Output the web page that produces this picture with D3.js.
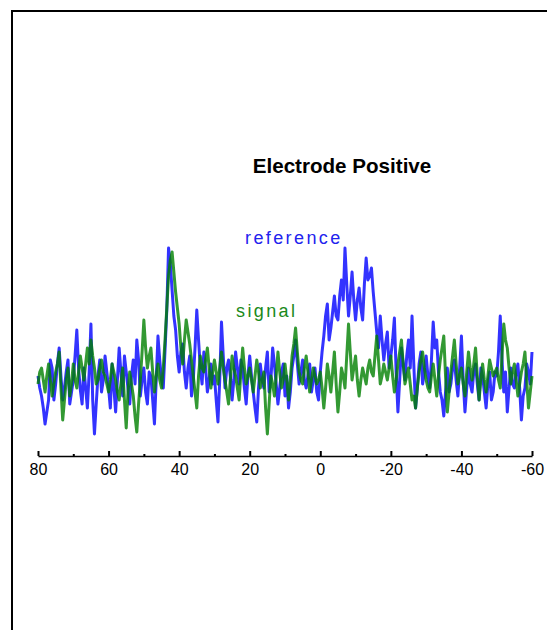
<!DOCTYPE html>
<html>
<head>
<meta charset="utf-8">
<script src="https://cdn.jsdelivr.net/npm/d3@7"></script>
<style>
  html, body { margin: 0; padding: 0; background: #fff; }
  svg { display: block; }
</style>
</head>
<body>
<svg id="chart" width="547" height="630"></svg>
<script>
// whole-step positions 80 .. -60 and half-step positions 79.5 .. -59.5
const xWhole = d3.range(80, -61, -1);
const xHalf = d3.range(79.5, -60, -1);

// reference series (blue) at whole steps
const referenceWhole = [
  3.2, 2.2, 0.8, 2.0, 3.6, 2.8, 4.6, 2.0, 3.4, 1.8,   // 80..71
  3.0, 5.5, 2.5, 3.6, 1.6, 5.8, 0.3, 3.2, 2.4, 4.2,   // 70..61
  2.6, 3.8, 1.4, 4.6, 2.2, 3.4, 1.8, 4.0, 5.0, 2.2,   // 60..51
  3.6, 1.8, 3.2, 0.8, 5.2, 3.0, 4.5, 9.6, 7.5, 5.5,   // 50..41
  3.4, 4.8, 2.6, 4.2, 3.0, 6.5, 3.6, 4.4, 2.4, 3.8,   // 40..31
  3.2, 0.9, 5.9, 2.6, 4.0, 2.0, 4.4, 2.8, 3.6, 1.8,   // 30..21
  4.2, 2.4, 0.9, 3.8, 2.6, 4.4, 3.0, 3.8, 1.8, 3.4,   // 20..11
  2.2, 1.6, 3.6, 5.0, 2.8, 4.0, 2.6, 3.8, 3.0, 2.4,   // 10..1
  3.4, 5.2, 6.8, 5.6, 7.2, 6.0, 8.0, 9.6, 6.2, 8.4,   // 0..-9
  6.0, 7.6, 6.0, 9.1, 8.2, 7.4, 5.4, 6.2, 4.0, 5.4,   // -10..-19
  4.2, 6.1, 1.4, 4.6, 3.0, 5.0, 6.2, 1.6, 3.8, 2.8,   // -20..-29
  4.2, 2.6, 5.9, 5.0, 2.4, 1.2, 3.6, 2.8, 4.0, 2.2,   // -30..-39
  5.2, 1.4, 3.6, 2.4, 3.8, 2.0, 3.2, 1.6, 3.4, 2.4,   // -40..-49
  3.2, 6.2, 2.4, 1.4, 3.6, 2.6, 3.8, 1.0, 2.6, 3.4, 4.4 // -50..-60
];
// reference series (blue) at half steps
const referenceHalf = [
  2.6, 1.6, 1.4, 4.0, 2.0, 3.8, 3.2, 2.6, 4.0, 2.4,   // 79.5..70.5
  4.2, 3.6, 1.8, 2.6, 3.4, 2.0, 1.8, 4.0, 3.0, 3.4,   // 69.5..60.5
  1.6, 2.6, 3.0, 3.4, 4.2, 2.6, 3.2, 2.8, 4.0, 3.0,   // 59.5..50.5
  2.4, 3.4, 2.0, 3.0, 4.0, 2.6, 6.5, 8.8, 6.2, 4.2,   // 49.5..40.5
  4.4, 3.4, 3.6, 2.2, 4.6, 5.0, 2.8, 3.6, 3.0, 2.8,   // 39.5..30.5
  2.0, 3.0, 4.2, 3.6, 3.2, 3.0, 3.6, 4.0, 2.6, 3.2,   // 29.5..20.5
  3.2, 1.6, 2.6, 3.0, 3.6, 2.4, 4.6, 2.8, 2.6, 3.8,   // 19.5..10.5
  3.2, 2.4, 4.2, 3.8, 3.4, 3.0, 3.2, 2.4, 3.6, 2.0,   // 9.5..0.5
  4.4, 6.2, 5.0, 6.4, 6.2, 7.2, 7.0, 7.8, 7.2, 7.0,   // -0.5..-9.5
  7.0, 6.6, 7.8, 8.0, 8.6, 6.4, 4.6, 5.0, 4.8, 3.6,   // -10.5..-19.5
  5.0, 3.4, 3.0, 3.8, 4.2, 3.6, 3.8, 2.6, 4.4, 3.4,   // -20.5..-29.5
  3.2, 4.0, 4.6, 3.4, 2.0, 2.4, 2.4, 3.6, 3.0, 3.6,   // -30.5..-39.5
  3.0, 2.6, 2.8, 3.4, 2.8, 3.6, 2.4, 2.8, 2.0, 3.4,   // -40.5..-49.5
  4.4, 4.0, 3.4, 2.6, 2.8, 3.4, 2.6, 2.2, 3.8, 2.8    // -50.5..-59.5
];

// signal series (green) at whole steps
const signalWhole = [
  2.8, 3.6, 2.4, 3.8, 2.2, 3.4, 4.4, 1.0, 3.0, 2.2,   // 80..71
  3.8, 2.6, 4.2, 3.0, 4.6, 5.0, 3.6, 3.0, 4.0, 3.2,   // 70..61
  2.4, 3.8, 3.0, 2.0, 3.6, 0.6, 3.4, 2.2, 0.4, 3.0,   // 60..51
  6.0, 3.6, 4.6, 2.4, 3.8, 2.6, 5.0, 8.2, 9.4, 7.4,   // 50..41
  5.8, 3.8, 6.0, 4.8, 3.2, 1.6, 4.2, 3.4, 4.6, 2.6,   // 40..31
  4.0, 2.8, 4.4, 3.0, 1.8, 4.2, 3.2, 2.0, 4.6, 2.8,   // 30..21
  3.6, 2.4, 4.0, 2.6, 3.4, 0.3, 3.2, 2.2, 4.4, 2.6,   // 20..11
  3.8, 2.0, 4.2, 5.6, 3.4, 2.8, 4.2, 2.4, 3.6, 2.8,   // 10..1
  3.4, 1.6, 3.8, 2.4, 4.4, 1.4, 3.6, 2.6, 5.8, 3.0,   // 0..-9
  4.2, 2.2, 3.6, 2.8, 4.0, 3.2, 5.2, 2.8, 3.8, 3.0,   // -10..-19
  4.2, 2.4, 3.8, 5.0, 2.8, 3.6, 2.0, 1.6, 3.4, 4.4,   // -20..-29
  3.0, 2.4, 3.8, 2.2, 4.0, 5.2, 1.4, 3.4, 5.0, 2.8,   // -30..-39
  3.6, 2.2, 4.4, 3.0, 4.6, 2.0, 3.8, 2.4, 4.0, 3.2,   // -40..-49
  3.6, 2.6, 5.8, 4.6, 2.8, 3.8, 2.2, 3.4, 4.4, 1.6, 3.2 // -50..-60
];
// signal series (green) at half steps
const signalHalf = [
  3.4, 3.0, 3.2, 3.0, 2.8, 3.8, 2.6, 2.0, 3.6, 2.8,   // 79.5..70.5
  3.0, 3.4, 3.6, 3.8, 3.8, 4.2, 2.8, 3.6, 3.4, 2.8,   // 69.5..60.5
  3.0, 3.4, 2.4, 2.8, 2.0, 2.4, 2.8, 1.2, 1.8, 4.4,   // 59.5..50.5
  4.6, 4.2, 3.4, 3.2, 3.0, 3.6, 6.6, 9.0, 8.4, 6.6,   // 49.5..40.5
  4.6, 5.0, 5.4, 4.0, 2.4, 3.2, 3.6, 4.0, 3.6, 3.4,   // 39.5..30.5
  3.4, 3.6, 3.6, 2.4, 3.0, 3.6, 2.6, 3.4, 3.6, 3.2,   // 29.5..20.5
  3.0, 3.2, 3.4, 3.0, 1.6, 1.8, 2.8, 3.2, 3.4, 3.0,   // 19.5..10.5
  3.0, 3.0, 4.8, 4.4, 3.0, 3.6, 3.4, 3.0, 3.2, 3.0,   // 9.5..0.5
  2.6, 2.6, 3.2, 3.4, 2.8, 2.4, 3.2, 4.2, 4.4, 3.6,   // -0.5..-9.5
  3.0, 3.0, 3.2, 3.6, 3.4, 4.2, 4.0, 3.2, 3.4, 3.6,   // -10.5..-19.5
  3.2, 3.0, 4.4, 3.8, 3.2, 2.8, 2.2, 2.6, 4.0, 3.6,   // -20.5..-29.5
  2.6, 3.2, 3.0, 3.2, 4.6, 3.2, 2.4, 4.2, 3.8, 3.2,   // -30.5..-39.5
  2.8, 3.4, 3.6, 3.8, 3.2, 3.0, 3.0, 3.2, 3.6, 3.4,   // -40.5..-49.5
  3.0, 4.2, 5.0, 3.6, 3.4, 3.0, 2.8, 3.8, 3.0, 2.4    // -50.5..-59.5
];

const majorTicks = [80, 60, 40, 20, 0, -20, -40, -60];
const minorTicks = [70, 50, 30, 10, -10, -30, -50];

const titleText = "Electrode Positive";
const seriesLabels = ["reference", "signal"];

// merge whole and half steps into one ordered table per series
function merge(whole, half) {
  const pts = [];
  xWhole.forEach((xv, i) => {
    pts.push({ x: xv, y: whole[i] });
    if (i < half.length) pts.push({ x: xHalf[i], y: half[i] });
  });
  return pts;
}
const referenceData = merge(referenceWhole, referenceHalf);
const signalData = merge(signalWhole, signalHalf);

const svg = d3.select("#chart");

// frame (top and left border)
svg.append("line").attr("x1", 12).attr("y1", 11).attr("x2", 547).attr("y2", 11)
  .attr("stroke", "#000").attr("stroke-width", 2);
svg.append("line").attr("x1", 12).attr("y1", 10).attr("x2", 12).attr("y2", 630)
  .attr("stroke", "#000").attr("stroke-width", 2);

const x = d3.scaleLinear().domain([80, -60]).range([38, 532]);
const y = d3.scaleLinear().domain([0, 10]).range([440, 240]);

const line = d3.line().x(d => x(d.x)).y(d => y(d.y));

svg.append("path")
  .datum(referenceData)
  .attr("fill", "none")
  .attr("stroke", "#0000ff")
  .attr("stroke-opacity", 0.8)
  .attr("stroke-width", 3)
  .attr("stroke-linejoin", "round")
  .attr("d", line);

svg.append("path")
  .datum(signalData)
  .attr("fill", "none")
  .attr("stroke", "#008000")
  .attr("stroke-opacity", 0.8)
  .attr("stroke-width", 3)
  .attr("stroke-linejoin", "round")
  .attr("d", line);

// axis
const axisY = 456;
const gMinor = svg.append("g").attr("transform", `translate(0,${axisY})`)
  .call(d3.axisBottom(x).tickValues(minorTicks).tickSizeInner(-2).tickSizeOuter(0).tickFormat(""));
gMinor.select(".domain").remove();
gMinor.selectAll("line").attr("stroke", "#000").attr("stroke-width", 2);

const gMajor = svg.append("g").attr("transform", `translate(0,${axisY})`)
  .call(d3.axisBottom(x).tickValues(majorTicks).tickSizeInner(-5).tickSizeOuter(0)
    .tickPadding(8).tickFormat(d => String(d)));
gMajor.select(".domain").attr("stroke", "#000").attr("stroke-width", 1.5);
gMajor.selectAll("line").attr("stroke", "#000").attr("stroke-width", 2);
gMajor.selectAll("text")
  .attr("font-family", "Liberation Sans, Arial, sans-serif")
  .attr("font-size", 16)
  .attr("fill", "#000");

// title
svg.append("text")
  .attr("x", 342).attr("y", 173)
  .attr("text-anchor", "middle")
  .attr("font-family", "Liberation Sans, Arial, sans-serif")
  .attr("font-weight", "bold")
  .attr("font-size", 20.6)
  .attr("fill", "#000")
  .text(titleText);

// series labels
svg.append("text")
  .attr("x", 245).attr("y", 244)
  .attr("font-family", "Liberation Sans, Arial, sans-serif")
  .attr("font-size", 18)
  .attr("letter-spacing", 2.4)
  .attr("fill", "#2222ee")
  .text(seriesLabels[0]);

svg.append("text")
  .attr("x", 236).attr("y", 317)
  .attr("font-family", "Liberation Sans, Arial, sans-serif")
  .attr("font-size", 18)
  .attr("letter-spacing", 2.4)
  .attr("fill", "#1a8a1a")
  .text(seriesLabels[1]);
</script>
</body>
</html>
